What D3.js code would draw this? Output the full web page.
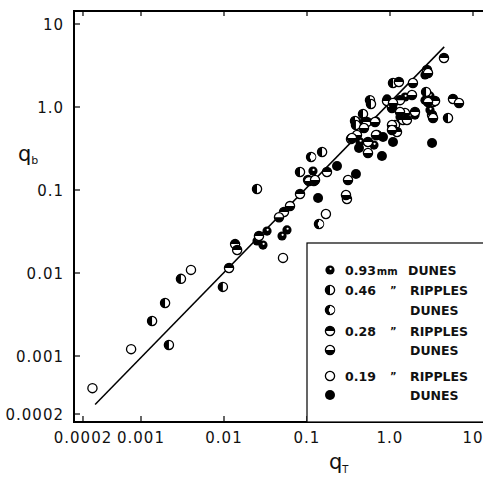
<!DOCTYPE html>
<html>
<head>
<meta charset="utf-8">
<script src="https://cdn.jsdelivr.net/npm/d3@7"></script>
<style>
  body { margin: 0; background: #fff; }
  svg { display: block; }
  text { font-family: "DejaVu Sans", sans-serif; fill: #111; }
</style>
</head>
<body>
<div id="chart"></div>
<script>
// Tick values and labels
const xTicks = [0.0002, 0.001, 0.01, 0.1, 1, 10];
const xTickLabels = ["0.0002", "0.001", "0.01", "0.1", "1.0", "10"];
const yTicks = [10, 1, 0.1, 0.01, 0.001, 0.0002];
const yTickLabels = ["10", "1.0", "0.1", "0.01", "0.001", "0.0002"];

// Fitted line end points [qT, qb]
const lineQT = [0.00028, 4.5];
const lineQB = [0.00026, 5.3];

// Data points [qT, qb] per grain size / bed form
const dunes093 = [
  [0.025, 0.0243], [0.0295, 0.0217], [0.033, 0.032], [0.05, 0.0279], [0.0574, 0.033],
  [0.118, 0.169], [0.678, 0.678], [0.435, 0.379], [0.641, 0.348], [1.32, 0.758],
  [2.0, 0.8], [2.64, 1.21], [2.64, 2.43], [0.92, 1.25], [1.52, 1.32],
  [3.03, 1.36], [3.03, 0.92], [1.4, 0.697], [0.4, 0.66],
];
const ripples046 = [
  [0.00136, 0.00264], [0.00195, 0.00435], [0.00217, 0.00136], [0.00303, 0.0085],
  [0.0097, 0.0068], [0.025, 0.103], [0.152, 0.287], [0.0824, 0.165], [0.473, 0.824],
  [0.379, 0.678], [0.389, 0.607], [5.0, 0.737], [1.087, 1.95], [0.574, 1.21],
  [0.59, 1.087], [2.72, 1.52], [1.149, 0.607], [0.5, 0.66],
];
const dunes046 = [[0.1395, 0.039], [0.112, 0.25]];
const ripples028 = [
  [0.0115, 0.0115], [0.0136, 0.0223], [0.0144, 0.0189], [0.0264, 0.0279], [0.0528, 0.0543],
  [0.0824, 0.0895], [0.121, 0.128], [0.174, 0.165], [0.103, 0.132], [0.303, 0.078],
  [0.339, 0.411], [0.528, 0.66], [0.543, 0.379], [0.92, 1.18], [1.435, 0.697],
  [1.214, 0.5], [2.0, 0.87], [3.3, 1.149], [4.47, 3.89], [2.79, 2.79],
  [1.28, 2.0], [1.32, 1.21], [3.49, 1.18], [5.74, 1.25], [1.057, 0.973],
  [3.21, 0.8], [1.6, 0.697], [0.697, 0.46],
];
const dunes028 = [
  [0.046, 0.047], [0.0624, 0.064], [0.1057, 0.128], [0.125, 0.132], [0.312, 0.132],
  [0.295, 0.087], [0.4, 0.46], [0.486, 0.558], [0.678, 0.46], [0.543, 0.279],
  [1.057, 1.0], [1.057, 0.607], [1.516, 0.847], [2.87, 2.57], [1.89, 1.95],
  [1.087, 1.117], [1.84, 1.395], [2.87, 1.149], [6.78, 1.117], [1.32, 0.87],
  [3.3, 0.737], [0.66, 0.66], [1.057, 0.528], [0.348, 0.423],
];
const ripples019 = [
  [0.00026, 0.00041], [0.00076, 0.00121], [0.004, 0.0109], [0.0514, 0.0152], [0.169, 0.0514],
];
const dunes019 = [
  [0.136, 0.08], [0.23, 0.195], [0.389, 0.156], [0.824, 0.435], [1.087, 0.379],
  [0.8, 0.257], [0.423, 0.321], [3.21, 0.368],
];

// Legend rows
const legendRows = [
  { size: "0.93", unit: "mm", ditto: false, form: "DUNES", kind: "A" },
  { size: "0.46", unit: "", ditto: true, form: "RIPPLES", kind: "B" },
  { size: "", unit: "", ditto: false, form: "DUNES", kind: "C" },
  { size: "0.28", unit: "", ditto: true, form: "RIPPLES", kind: "D" },
  { size: "", unit: "", ditto: false, form: "DUNES", kind: "E" },
  { size: "0.19", unit: "", ditto: true, form: "RIPPLES", kind: "F" },
  { size: "", unit: "", ditto: false, form: "DUNES", kind: "G" },
];

const width = 483, height = 477;
const frame = { left: 74, top: 11, right: 490, bottom: 422 };

const svg = d3.select("#chart").append("svg")
  .attr("width", width).attr("height", height);

const x = d3.scaleLog().domain([0.001, 10]).range([141, 473]);
const y = d3.scaleLog().domain([0.001, 10]).range([356, 24]);

// Draws one marker symbol at (0,0)
function marker(g, kind) {
  const r = kind === "G" ? 5 : 4.6;
  if (kind === "A" || kind === "G") {
    g.append("circle").attr("r", r).attr("fill", "#000");
    if (kind === "A") g.append("circle").attr("cx", 0.6).attr("cy", -1.2).attr("r", 1.1).attr("fill", "#fff");
    return;
  }
  g.append("circle").attr("r", r).attr("fill", "#fff").attr("stroke", "#000").attr("stroke-width", 1.3);
  if (kind === "B") {
    g.append("path").attr("d", `M0,${-r}A${r},${r} 0 0 0 0,${r}Z`).attr("fill", "#000");
  } else if (kind === "C") {
    g.append("path").attr("d", `M0,${-r}A${r},${r} 0 0 0 0,${r}Z`).attr("fill", "#000");
    g.append("circle").attr("cx", 1.6).attr("r", r - 1.8).attr("fill", "#fff");
  } else if (kind === "D") {
    g.append("path").attr("d", `M${-r},0A${r},${r} 0 0 1 ${r},0Z`).attr("fill", "#000");
  } else if (kind === "E") {
    g.append("path").attr("d", `M${-r},0A${r},${r} 0 0 0 ${r},0Z`).attr("fill", "#000");
  }
}

// Frame
svg.append("path")
  .attr("d", `M${frame.right},${frame.top}H${frame.left}V${frame.bottom}H${frame.right}`)
  .attr("fill", "none").attr("stroke", "#000").attr("stroke-width", 2);

// Ticks (inward)
const yAxis = svg.append("g");
yTicks.forEach((t, i) => {
  yAxis.append("line").attr("x1", frame.left).attr("x2", frame.left + 6)
    .attr("y1", y(t)).attr("y2", y(t)).attr("stroke", "#000").attr("stroke-width", 1.2);
  yAxis.append("text").attr("x", 64).attr("y", y(t) + 5.5)
    .attr("text-anchor", "end").attr("font-size", 15).attr("letter-spacing", 1)
    .text(yTickLabels[i]);
});
const xAxis = svg.append("g");
xTicks.forEach((t, i) => {
  xAxis.append("line").attr("x1", x(t)).attr("x2", x(t))
    .attr("y1", frame.bottom).attr("y2", frame.bottom - 6).attr("stroke", "#000").attr("stroke-width", 1.2);
  xAxis.append("line").attr("x1", x(t)).attr("x2", x(t))
    .attr("y1", frame.top).attr("y2", frame.top + 5).attr("stroke", "#000").attr("stroke-width", 1.2);
  xAxis.append("text").attr("x", x(t)).attr("y", 443)
    .attr("text-anchor", "middle").attr("font-size", 15).attr("letter-spacing", 1)
    .text(xTickLabels[i]);
});

// Axis titles
const yTitle = svg.append("text").attr("x", 18).attr("y", 161).attr("font-size", 21);
yTitle.append("tspan").text("q");
yTitle.append("tspan").attr("font-size", 11).attr("dy", 3).text("b");
const xTitle = svg.append("text").attr("x", 329).attr("y", 469).attr("font-size", 21);
xTitle.append("tspan").text("q");
xTitle.append("tspan").attr("font-size", 10).attr("dy", 4).text("T");

// Fitted line
svg.append("line")
  .attr("x1", x(lineQT[0])).attr("y1", y(lineQB[0]))
  .attr("x2", x(lineQT[1])).attr("y2", y(lineQB[1]))
  .attr("stroke", "#000").attr("stroke-width", 1.5);

// Points
const series = [
  [dunes093, "A"], [ripples046, "B"], [dunes046, "C"], [ripples028, "D"],
  [dunes028, "E"], [ripples019, "F"], [dunes019, "G"],
];
const pts = svg.append("g");
series.forEach(([data, kind]) => {
  data.forEach(d => {
    const g = pts.append("g").attr("transform", `translate(${x(d[0])},${y(d[1])})`);
    marker(g, kind);
  });
});

// Legend box
const lx = x(0.1), ly = 243;
const legend = svg.append("g");
legend.append("rect").attr("x", lx).attr("y", ly).attr("width", width - lx + 5).attr("height", frame.bottom - ly)
  .attr("fill", "#fff").attr("stroke", "#000").attr("stroke-width", 1.2);
const rowY = [270, 290, 310, 331, 350, 376, 395];
legendRows.forEach((row, i) => {
  const g = legend.append("g").attr("transform", `translate(330,${rowY[i]})`);
  marker(g, row.kind);
  if (row.size) {
    const t = g.append("text").attr("x", 15).attr("y", 5).attr("font-size", 12.5).attr("font-weight", "bold");
    t.append("tspan").text(row.size);
    if (row.unit) t.append("tspan").attr("font-size", 10).attr("dx", 1).text(row.unit);
  }
  if (row.ditto) {
    g.append("text").attr("x", 60).attr("y", 4).attr("font-size", 10).attr("font-weight", "bold").text("\u201D");
  }
  g.append("text").attr("x", row.unit ? 78 : 80).attr("y", 5).attr("font-size", 12.5)
    .attr("font-weight", "bold").text(row.form);
});
</script>
</body>
</html>
